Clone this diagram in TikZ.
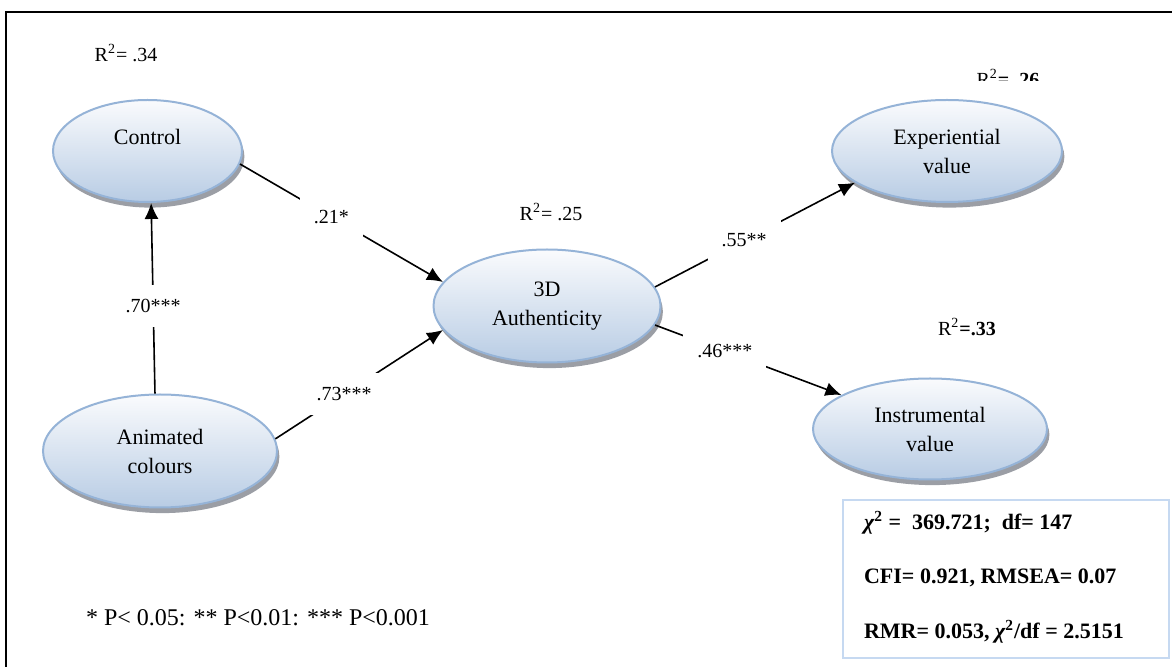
\documentclass[tikz,border=0pt]{standalone}
\usepackage{fontspec}
\setmainfont{Liberation Serif}
\usetikzlibrary{arrows.meta,shapes.geometric,shadows}
\definecolor{EllTopClr}{RGB}{250,251,253}
\definecolor{EllBotClr}{RGB}{184,204,228}
\definecolor{EllLineClr}{RGB}{149,179,215}
\definecolor{ShadowClr}{RGB}{155,158,165}
\definecolor{FitClr}{RGB}{198,217,241}

\begin{document}
\begin{tikzpicture}[x=0.5pt,y=-0.5pt,
  font=\fontsize{11}{14.5}\selectfont,
  latent/.style={ellipse,draw=EllLineClr,line width=1pt,top color=EllTopClr,bottom color=EllBotClr,
    align=center,inner sep=0pt,
    drop shadow={shadow xshift=1.2pt,shadow yshift=-2.8pt,fill=ShadowClr,opacity=1}},
  effect/.style={draw,line width=0.8pt,-{Latex[length=8pt,width=7pt]}},
  coef/.style={fill=white,inner sep=7pt,font=\fontsize{10}{12}\selectfont},
  rsq/.style={font=\fontsize{10}{12}\selectfont}]

\useasboundingbox (0,0) rectangle (1172,667);
\draw[line width=1pt] (6,667) -- (6,12) -- (1172,12);

% constructs
\node[latent,minimum width=94.5pt,minimum height=51pt,text depth=14pt] (ctrl) at (147.5,151) {Control};
\node[latent,minimum width=117pt,minimum height=56.5pt] (anim) at (160,451) {Animated\\colours};
\node[latent,minimum width=113.5pt,minimum height=56.5pt] (auth) at (547,306) {3D\\Authenticity};
\node[latent,minimum width=115pt,minimum height=51pt] (expv) at (947,151) {Experiential\\value};
\node[latent,minimum width=117pt,minimum height=50.5pt] (instr) at (930,429) {Instrumental\\value};

% paths
\draw[effect] (ctrl.-8) -- node[coef,pos=0.45] {.21*} (auth.167);
\draw[effect] (anim.95) -- node[coef,pos=0.46] {.70***} (ctrl.-86);
\draw[effect] (anim.6) -- node[coef,pos=0.41] {.73***} (auth.193);
\draw[effect] (auth.10) -- node[coef,pos=0.445] {.55**} (expv.199);
\draw[effect] (auth.-10) -- node[coef,pos=0.375] {.46***} (instr.159);

% R squared
\node[rsq] (rctrl) at (126,53) {R\textsuperscript{2}= .34};
\node[rsq] (rauth) at (551,212) {R\textsuperscript{2}= .25};
\node[rsq] (rinstr) at (967,327) {R\textsuperscript{2}\textbf{=.33}};
\begin{scope}
\clip (900,60) rectangle (1100,81);
\node[rsq] (rexpv) at (1008,78) {R\textsuperscript{2}\textbf{= .26}};
\end{scope}

\node[font=\fontsize{12}{14}\selectfont] (sig) at (258,618) {* P< 0.05: ** P<0.01: *** P<0.001};

% fit indices
\draw[FitClr,line width=1pt] (843,500) rectangle (1169,658);
\node[anchor=west,font=\bfseries\fontsize{11}{13}\selectfont] (fit1) at (857,523) {{\itshape χ}\textsuperscript{2} =\ \ 369.721;\ \ df= 147};
\node[anchor=west,font=\bfseries\fontsize{11}{13}\selectfont] (fit2) at (857,578) {CFI= 0.921, RMSEA= 0.07};
\node[anchor=west,font=\bfseries\fontsize{11}{13}\selectfont] (fit3) at (857,632) {RMR= 0.053, {\itshape χ}\textsuperscript{2}/df = 2.5151};

\end{tikzpicture}
\end{document}
